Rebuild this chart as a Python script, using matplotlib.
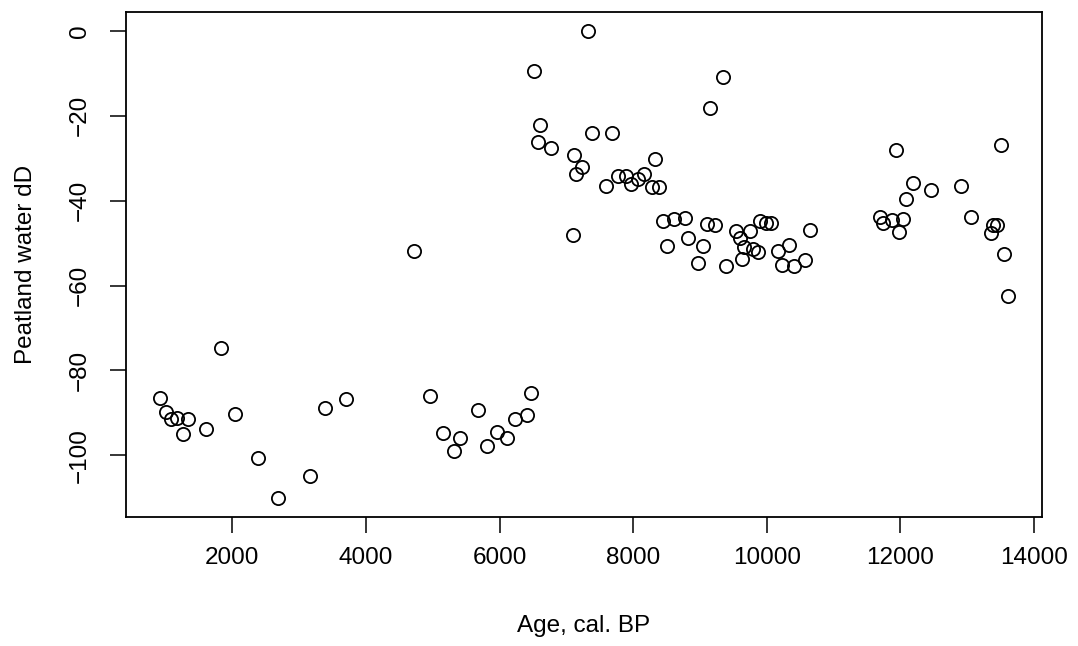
import numpy as np
import matplotlib.pyplot as plt

plt.rcParams['font.family'] = ['Liberation Sans', 'DejaVu Sans']

# age (cal. BP) and peatland water dD
age = [916, 1012, 1087, 1177, 1341, 1256, 1611, 1835, 2034, 2389,
       2683, 3157, 3382, 3696, 4725, 4958, 5159, 5413, 5323, 5683,
       5817, 5967, 6111, 6237, 6410, 6476, 7329, 6515, 9344, 9155,
       6605, 6575, 6775, 7379, 7678, 7114, 7229, 7144, 7588, 7778,
       7888, 7963, 8078, 8162, 8322, 8277, 8382, 7099, 8442, 8606,
       8771, 8502, 8826, 9045, 8970, 9105, 9225, 9385, 9535, 9595,
       9745, 9659, 9793, 9874, 9624, 9904, 9994, 10063, 10174, 10333,
       10234, 10403, 10642, 10578, 11930, 13506, 12188, 12453, 12903, 12090,
       11690, 11740, 11880, 12039, 11979, 13057, 13355, 13385, 13440, 13551,
       13611]
dD = [-86.6, -89.8, -91.5, -91.1, -91.5, -94.9, -93.9, -74.6, -90.3, -100.5,
      -110.1, -104.8, -88.9, -86.7, -51.8, -85.9, -94.8, -95.8, -99.0, -89.4,
      -97.8, -94.6, -95.8, -91.4, -90.4, -85.2, 0.0, -9.5, -11.0, -18.1,
      -22.3, -26.3, -27.6, -24.1, -24.1, -29.3, -32.1, -33.7, -36.6, -34.2,
      -34.2, -36.2, -35.0, -33.8, -30.1, -36.8, -36.8, -48.2, -44.7, -44.4,
      -44.0, -50.6, -48.8, -50.7, -54.8, -45.4, -45.7, -55.5, -47.1, -48.8,
      -47.2, -51.0, -51.5, -52.2, -53.7, -44.9, -45.2, -45.3, -51.8, -50.5,
      -55.2, -55.5, -46.9, -54.1, -28.0, -26.9, -35.9, -37.6, -36.5, -39.7,
      -43.9, -45.3, -44.5, -44.3, -47.5, -43.9, -47.6, -45.8, -45.8, -52.5,
      -62.4]

fig = plt.figure(figsize=(10.78, 6.46), dpi=100)
ax = fig.add_axes([126/1078, 1 - 517/646, (1042 - 126)/1078, (517 - 12)/646])

ax.plot(age, dD, linestyle='none', marker='o', markersize=9.5,
        markerfacecolor='none', markeredgecolor='black', markeredgewidth=1.3)

# R-style 4% padding
xr = max(age) - min(age)
yr = max(dD) - min(dD)
ax.set_xlim(min(age) - 0.04*xr, max(age) + 0.04*xr)
ax.set_ylim(min(dD) - 0.04*yr, max(dD) + 0.04*yr)

ax.set_xticks(np.arange(2000, 14001, 2000))
ax.set_yticks(np.arange(-100, 1, 20))
ax.tick_params(direction='out', length=11.5, width=1.1, labelsize=17.5)
ax.tick_params(axis='x', pad=10)
ax.tick_params(axis='y', pad=14)
for lab in ax.get_yticklabels():
    lab.set_rotation(90)
    lab.set_va('center')
for s in ax.spines.values():
    s.set_linewidth(1.3)

ax.set_xlabel('Age, cal. BP', fontsize=17.5, labelpad=33)
ax.set_ylabel('Peatland water dD', fontsize=17.5, labelpad=23)

plt.savefig('out.png', dpi=100)
